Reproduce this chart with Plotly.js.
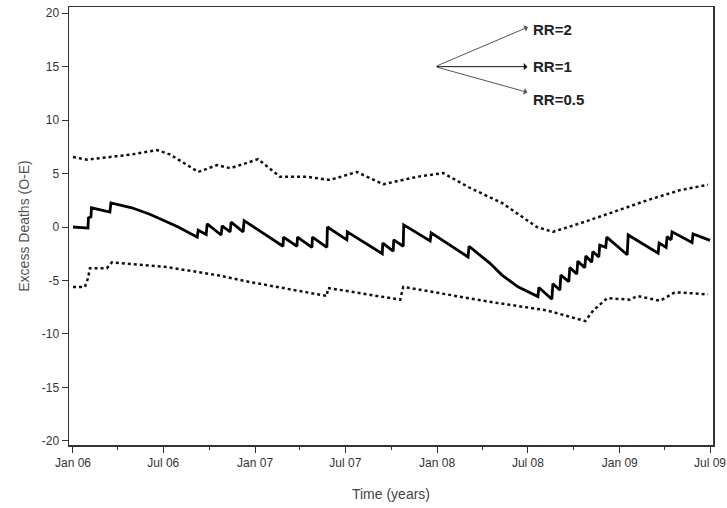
<!DOCTYPE html>
<html>
<head>
<meta charset="utf-8">
<script src="https://cdn.plot.ly/plotly-3.0.1.min.js"></script>
<style>html,body{margin:0;padding:0;background:#fff}#chart{width:727px;height:508px}</style>
</head>
<body>
<div id="chart"></div>
<script>
// Observed CUSUM (RR=1), solid line
const obsDates = ['2006-01-01','2006-01-31','2006-02-01','2006-02-06','2006-02-07','2006-03-16','2006-03-18','2006-04-29','2006-06-04','2006-07-31',
  '2006-09-07','2006-09-09','2006-09-25','2006-09-27','2006-10-25','2006-10-27','2006-11-12','2006-11-14','2006-12-08','2006-12-10',
  '2007-02-26','2007-02-27','2007-03-26','2007-03-27','2007-04-25','2007-04-26','2007-05-25','2007-05-26','2007-07-04','2007-07-05',
  '2007-09-13','2007-09-14','2007-10-05','2007-10-06','2007-10-25','2007-10-26','2007-12-18','2007-12-20','2008-03-03','2008-03-05',
  '2008-04-16','2008-05-10','2008-06-11','2008-07-21','2008-07-23','2008-08-18','2008-08-20','2008-09-03','2008-09-05','2008-09-21',
  '2008-09-23','2008-10-07','2008-10-09','2008-10-23','2008-10-25','2008-11-06','2008-11-08','2008-11-20','2008-11-22','2008-12-04',
  '2008-12-06','2009-01-16','2009-01-18','2009-03-19','2009-03-21','2009-04-04','2009-04-06','2009-04-14','2009-04-16','2009-05-26',
  '2009-05-28','2009-07-01'];
const obsValues = [0,-0.1,0.85,0.95,1.8,1.4,2.25,1.8,1.2,0.0,
  -0.95,-0.3,-0.7,0.3,-0.75,0.1,-0.45,0.45,-0.45,0.6,
  -1.8,-0.95,-1.8,-0.95,-1.9,-0.95,-1.9,0.0,-1.2,-0.45,
  -2.5,-1.5,-2.25,-1.2,-1.8,0.2,-1.3,-0.55,-2.8,-1.8,
  -3.4,-4.5,-5.6,-6.5,-5.65,-6.75,-5.3,-5.9,-4.5,-5.1,
  -3.8,-4.4,-3.2,-3.8,-2.7,-3.3,-2.3,-2.8,-1.7,-1.9,
  -0.95,-2.6,-0.75,-2.45,-1.5,-1.9,-0.9,-1.2,-0.45,-1.45,
  -0.65,-1.25];

// Upper limit (RR=2), dotted
const upperDates = ['2006-01-01','2006-01-29','2006-03-16','2006-05-01','2006-06-18','2006-07-14','2006-08-18','2006-09-09','2006-10-17','2006-11-12',
  '2006-12-16','2007-01-07','2007-02-20','2007-04-15','2007-05-31','2007-07-24','2007-09-15','2007-11-22','2008-01-13','2008-03-07',
  '2008-05-10','2008-07-19','2008-08-20','2008-10-14','2008-12-19','2009-02-25','2009-05-02','2009-06-27'];
const upperValues = [6.55,6.3,6.55,6.8,7.2,6.8,5.8,5.15,5.8,5.5,
  6.0,6.35,4.7,4.7,4.4,5.15,4.0,4.7,5.05,3.65,
  2.25,0.0,-0.45,0.35,1.4,2.5,3.45,3.95];

// Lower limit (RR=0.5), dotted
const lowerDates = ['2006-01-01','2006-01-25','2006-01-31','2006-02-04','2006-03-10','2006-03-20','2006-07-08','2006-10-17','2006-12-22','2007-05-25',
  '2007-05-27','2007-10-19','2007-10-25','2008-04-16','2008-08-08','2008-10-18','2008-10-24','2008-11-09','2008-12-07','2009-01-22',
  '2009-02-05','2009-03-23','2009-04-22','2009-06-27'];
const lowerValues = [-5.6,-5.6,-4.8,-3.85,-3.85,-3.3,-3.75,-4.5,-5.15,-6.45,
  -5.7,-6.8,-5.6,-7.0,-7.8,-8.7,-8.8,-7.8,-6.65,-6.8,
  -6.45,-6.9,-6.1,-6.3];

const yTicks = [-20,-15,-10,-5,0,5,10,15,20];
const yTickText = yTicks.map(v => String(v));
const labels = ['RR=2','RR=1','RR=0.5'];

const traces = [
  {x: upperDates, y: upperValues, mode:'lines', line:{color:'#111', width:2.5, dash:'dot'}, hoverinfo:'skip'},
  {x: lowerDates, y: lowerValues, mode:'lines', line:{color:'#111', width:2.5, dash:'dot'}, hoverinfo:'skip'},
  {x: obsDates, y: obsValues, mode:'lines', line:{color:'#000', width:2.8}, hoverinfo:'skip'}
];

const tail = {x:'2007-12-28', y:15.0};
const lblFont = {family:'Arial, Liberation Sans', size:15, color:'#222', weight:'bold'};
const annos = [
  {x:'2008-07-01', y:18.7, ax:tail.x, ay:tail.y, axref:'x', ayref:'y', xref:'x', yref:'y', text:'', showarrow:true, arrowhead:1, arrowsize:1.2, arrowwidth:1, arrowcolor:'#555'},
  {x:'2008-06-30', y:15.0, ax:tail.x, ay:tail.y, axref:'x', ayref:'y', xref:'x', yref:'y', text:'', showarrow:true, arrowhead:1, arrowsize:1.2, arrowwidth:1, arrowcolor:'#111'},
  {x:'2008-06-30', y:12.6, ax:tail.x, ay:tail.y, axref:'x', ayref:'y', xref:'x', yref:'y', text:'', showarrow:true, arrowhead:1, arrowsize:1.2, arrowwidth:1, arrowcolor:'#555'},
  {x:'2008-07-07', y:18.5, xref:'x', yref:'y', text:labels[0], showarrow:false, xanchor:'left', yanchor:'middle', font:lblFont},
  {x:'2008-07-07', y:15.0, xref:'x', yref:'y', text:labels[1], showarrow:false, xanchor:'left', yanchor:'middle', font:lblFont},
  {x:'2008-07-07', y:11.9, xref:'x', yref:'y', text:labels[2], showarrow:false, xanchor:'left', yanchor:'middle', font:lblFont}
];

const layout = {
  width:727, height:508,
  margin:{l:69, r:14, t:7, b:63},
  paper_bgcolor:'#fff', plot_bgcolor:'#fff',
  showlegend:false,
  font:{family:'Arial, Liberation Sans', color:'#333'},
  xaxis:{
    type:'date', range:['2005-12-24','2009-07-07'],
    tick0:'2006-01-01', dtick:'M6', tickformat:'%b %y',
    ticks:'outside', ticklen:6, tickcolor:'#333', tickwidth:1,
    minor:{dtick:'M3', ticks:'outside', ticklen:3, tickcolor:'#333', showgrid:false},
    showline:true, linecolor:'#333', linewidth:1.5, mirror:true,
    showgrid:false, zeroline:false,
    tickfont:{size:12, color:'#333'},
    title:{text:'Time (years)', font:{size:14, color:'#444'}, standoff:20}
  },
  yaxis:{
    range:[-20.39, 20.58], tickvals:yTicks, ticktext:yTickText, tickmode:'array',
    ticks:'outside', ticklen:6, tickcolor:'#333',
    showline:true, linecolor:'#333', linewidth:1.5, mirror:true,
    showgrid:false, zeroline:false,
    tickfont:{size:12, color:'#333'},
    title:{text:'Excess Deaths (O-E)', font:{size:14, color:'#555'}, standoff:9}
  },
  annotations: annos
};

Plotly.newPlot('chart', traces, layout, {displayModeBar:false, staticPlot:true});
</script>
</body>
</html>
